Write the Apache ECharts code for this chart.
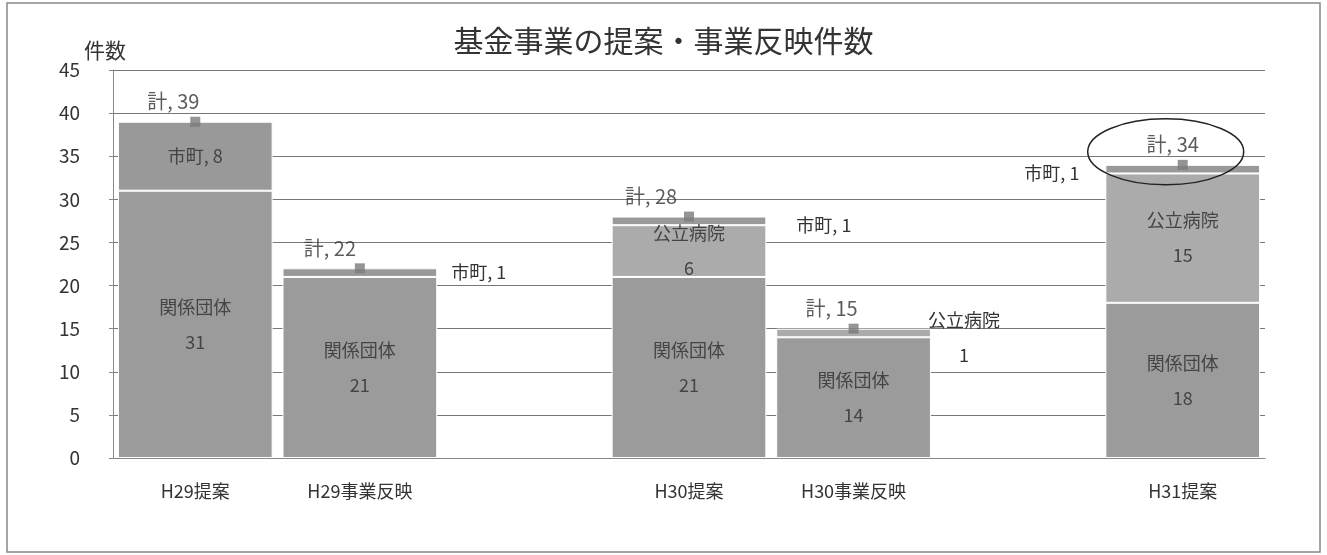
<!DOCTYPE html>
<html>
<head>
<meta charset="utf-8">
<script src="https://cdn.jsdelivr.net/npm/echarts@6/dist/echarts.min.js"></script>
<style>
  html, body { margin: 0; padding: 0; background: #fff; }
  #main { width: 1327px; height: 555px; }
</style>
</head>
<body>
<div id="main"></div>
<script>
// categories ('' = empty slot between years)
var categories = ['H29提案', 'H29事業反映', '', 'H30提案', 'H30事業反映', '', 'H31提案'];
var kankeiDantai = [31, 21, '-', 21, 14, '-', 18];
var kouritsuByoin = ['-', '-', '-', 6, 1, '-', 15];
var shichou = [8, 1, '-', 1, '-', '-', 1];
var total = [39, 22, '-', 28, 15, '-', 34];
var yTicks = [0, 5, 10, 15, 20, 25, 30, 35, 40, 45];

var FONT = '"Noto Sans CJK JP", "Noto Sans", sans-serif';
var chart = echarts.init(document.getElementById('main'));

// labels for thin segments sit outside the bar
var kouritsuData = kouritsuByoin.map(function (v, i) {
  if (i === 4) {
    return {
      value: v,
      label: { position: 'right', distance: 0, align: 'center', offset: [33, 5], color: '#333' }
    };
  }
  return v;
});
var shichouData = shichou.map(function (v, i) {
  if (i === 1) return { value: v, label: { position: 'right', distance: 14, color: '#333' } };
  if (i === 3) return { value: v, label: { position: 'right', distance: 30, offset: [0, 4], color: '#333' } };
  if (i === 6) return { value: v, label: { position: 'left', distance: 26, offset: [0, 4], color: '#333' } };
  return v;
});
var totalOffsets = [-22, -30, 0, -38, -22, 0, -10];
var totalData = total.map(function (v, i) {
  return { value: v, label: { offset: [totalOffsets[i], 0] } };
});

var option = {
  animation: false,
  backgroundColor: '#fff',
  title: {
    text: '基金事業の提案・事業反映件数',
    left: 'center',
    top: 21,
    textStyle: { fontFamily: FONT, fontSize: 30, fontWeight: 'normal', color: '#333' }
  },
  grid: { left: 113, right: 62, top: 70, bottom: 97 },
  xAxis: {
    type: 'category',
    data: categories,
    axisLine: { lineStyle: { color: '#888' } },
    axisTick: { show: false },
    axisLabel: { fontFamily: FONT, fontSize: 18, color: '#333', margin: 24 }
  },
  yAxis: {
    type: 'value',
    min: 0,
    max: 45,
    interval: 5,
    name: '件数',
    nameGap: 4,
    nameTextStyle: { fontFamily: FONT, fontSize: 21, color: '#333', align: 'center', padding: [0, 0, 0, -16] },
    axisLine: { show: true, lineStyle: { color: '#888' } },
    axisTick: { show: true, length: 4, lineStyle: { color: '#888' } },
    axisLabel: {
      fontFamily: FONT, fontSize: 19, color: '#333', margin: 33,
      formatter: function (v) { return yTicks.indexOf(v) >= 0 ? String(v) : ''; }
    },
    splitLine: { lineStyle: { color: '#777', width: 1 } }
  },
  series: [
    {
      name: '関係団体',
      type: 'bar',
      stack: 'all',
      barCategoryGap: '6%',
      data: kankeiDantai,
      itemStyle: { color: '#9b9b9b', borderColor: '#fff', borderWidth: 1 },
      label: {
        show: true, position: 'inside', formatter: '{a}\n{c}',
        fontFamily: FONT, fontSize: 18, color: '#444', lineHeight: 35
      }
    },
    {
      name: '公立病院',
      type: 'bar',
      stack: 'all',
      data: kouritsuData,
      itemStyle: { color: '#ababab', borderColor: '#fff', borderWidth: 1 },
      label: {
        show: true, position: 'inside', formatter: '{a}\n{c}',
        fontFamily: FONT, fontSize: 18, color: '#444', lineHeight: 35
      }
    },
    {
      name: '市町',
      type: 'bar',
      stack: 'all',
      data: shichouData,
      itemStyle: { color: '#999999', borderColor: '#fff', borderWidth: 1 },
      label: {
        show: true, position: 'inside', formatter: '{a}, {c}',
        fontFamily: FONT, fontSize: 18, color: '#444'
      }
    },
    {
      name: '計',
      type: 'scatter',
      data: totalData,
      symbol: 'rect',
      symbolSize: 10,
      itemStyle: { color: '#7b7b7b' },
      z: 5,
      label: {
        show: true, position: 'top', distance: 5, formatter: '{a}, {c}',
        fontFamily: FONT, fontSize: 20, color: '#333'
      }
    }
  ]
};

chart.setOption(option);

// outer frame and the hand-drawn ellipse round the H31 total
var pt = chart.convertToPixel({ seriesIndex: 3 }, ['H31提案', total[6]]);
chart.setOption({
  graphic: [
    {
      type: 'rect',
      shape: { x: 7, y: 3, width: 1313, height: 549 },
      style: { fill: 'none', stroke: '#888', lineWidth: 1.5 },
      silent: true
    },
    {
      type: 'ellipse',
      shape: { cx: pt[0] - 17, cy: pt[1] - 13, rx: 78, ry: 33 },
      style: { fill: 'none', stroke: '#222', lineWidth: 1.5 },
      z: 10,
      silent: true
    }
  ]
});
</script>
</body>
</html>
